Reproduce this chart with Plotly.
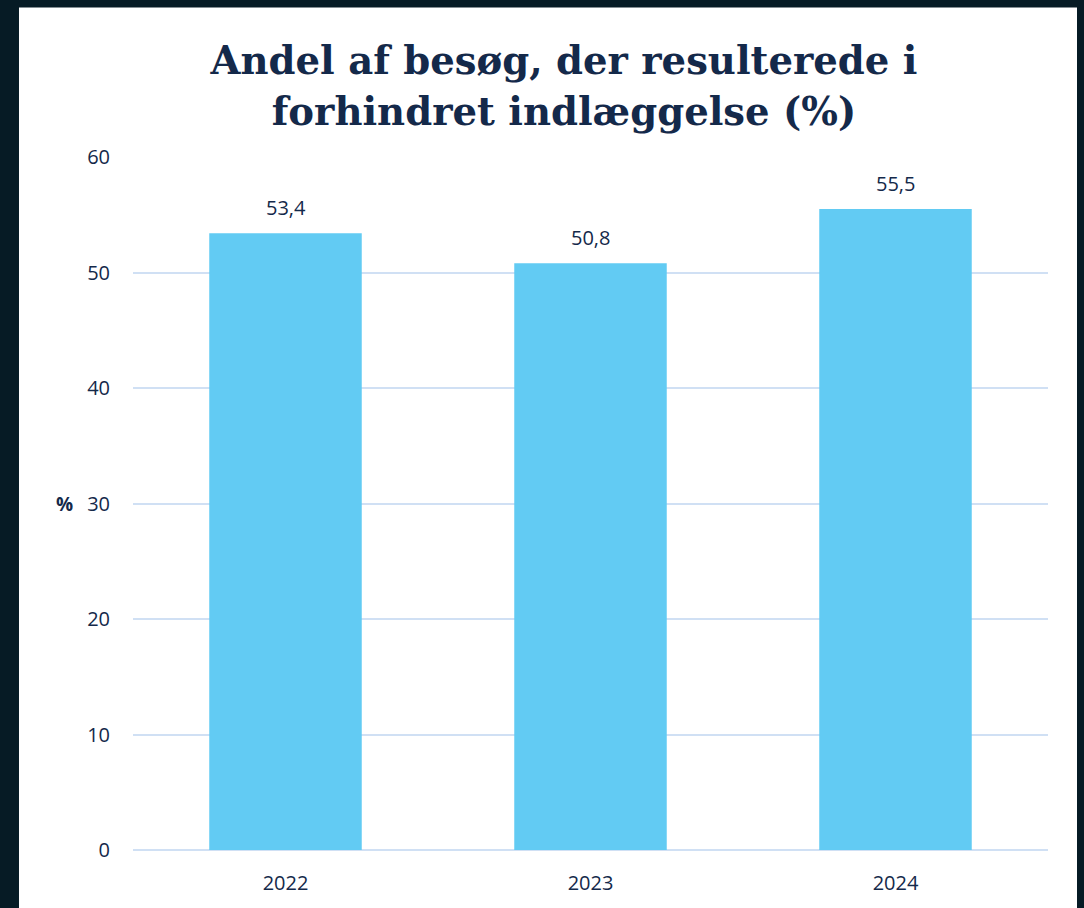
import plotly.graph_objects as go

years = ["2022", "2023", "2024"]
andel = [53.4, 50.8, 55.5]
y_ticks = [0, 10, 20, 30, 40, 50, 60]

navy = "#14294A"
bar_color = "#62CBF3"
grid_color = "#D0E0F4"

fig = go.Figure()
fig.add_trace(go.Bar(
    x=years, y=andel,
    marker=dict(color=bar_color, line=dict(width=0)),
    hoverinfo="x+y",
))

# value labels above the bars (a bit higher than plotly's own outside text)
# numeric-looking category names get read as indices, so use the index
for i, v in enumerate(andel):
    fig.add_annotation(x=i, y=v, text=f"{v:.1f}".replace(".", ","),
                       showarrow=False, yanchor="bottom", yshift=10,
                       font=dict(family="Open Sans", size=20, color=navy))

# white card on the dark background
fig.add_shape(type="rect", xref="paper", yref="paper",
              x0=-0.1246, x1=1.0317, y0=-0.2, y1=1.2158,
              fillcolor="white", line=dict(width=0), layer="below")

fig.add_annotation(text="<b>%</b>", xref="paper", yref="paper",
                   x=-0.0863, y=0.5, showarrow=False,
                   font=dict(family="Open Sans", size=19, color=navy))

fig.update_layout(
    width=1084, height=908,
    margin=dict(l=133, r=36, t=157, b=56),
    paper_bgcolor="#061B25", plot_bgcolor="rgba(0,0,0,0)",
    bargap=0.5,
    showlegend=False,
    title=dict(
        text="<b>Andel af besøg, der resulterede i<br>forhindret indlæggelse (%)</b>",
        x=0.5203, xanchor="center", y=0.918, yanchor="top",
        font=dict(family="DejaVu Serif", size=38.6, color=navy),
    ),
    font=dict(family="Open Sans", size=20, color=navy),
)
fig.update_yaxes(range=[0, 60], tickvals=y_ticks, showgrid=True,
                 gridcolor=grid_color, gridwidth=2, zeroline=True,
                 zerolinecolor=grid_color, zerolinewidth=2,
                 ticklabelstandoff=22, showline=False,
                 tickfont=dict(family="Open Sans", size=20, color=navy))
fig.update_xaxes(type="category", showline=False, ticklabelstandoff=19,
                 tickfont=dict(family="Open Sans", size=20, color=navy))

fig.write_html("out.html", config={"displayModeBar": False},
               post_script="document.body.style.margin='0';")
